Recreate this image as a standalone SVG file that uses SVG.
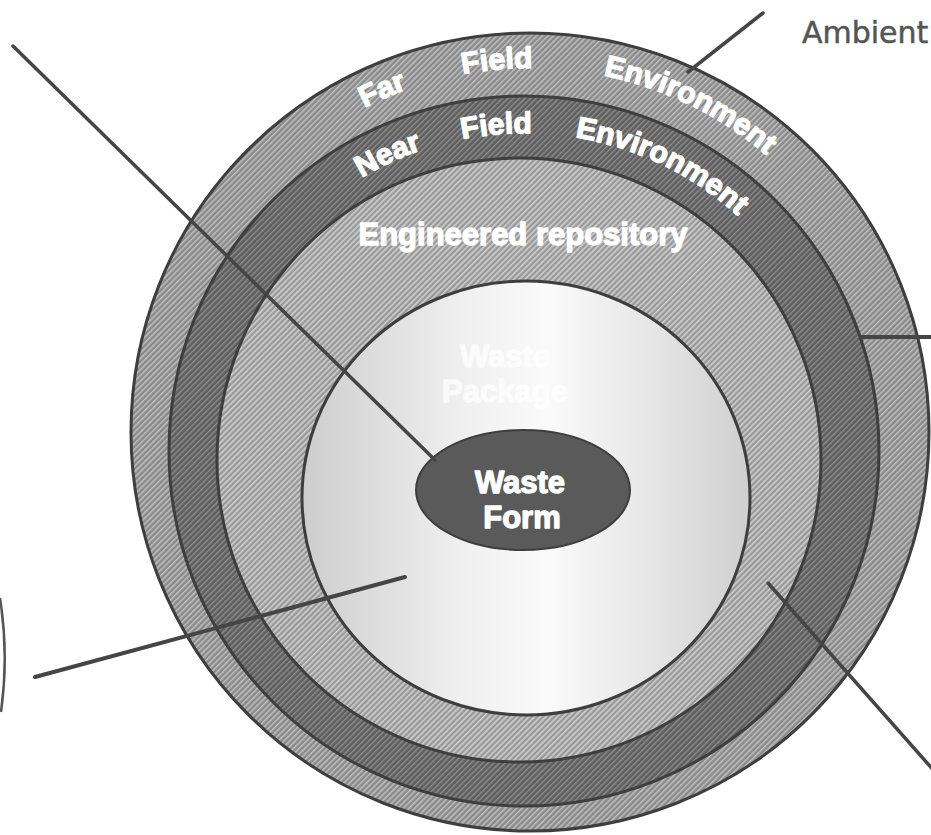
<svg xmlns="http://www.w3.org/2000/svg" width="931" height="835" viewBox="0 0 931 835">
  <style>
    .ring { stroke: #3e3e3e; stroke-width: 3; }
    .band-label { font-family: "Liberation Sans", Arial, sans-serif; font-weight: bold; font-size: 30px; fill: #ffffff; stroke: #ffffff; stroke-width: 1.3; stroke-linejoin: round; }
    .core-label { font-family: "Liberation Sans", Arial, sans-serif; font-weight: bold; font-size: 31px; fill: #ffffff; stroke: #ffffff; stroke-width: 1.3; stroke-linejoin: round; text-anchor: middle; }
    .faint-label { opacity: 0.75; }
    .outside-label { font-family: "DejaVu Sans", "Liberation Sans", sans-serif; font-size: 30px; fill: #555555; stroke: #555555; stroke-width: 0.5; }
    .leader { stroke: #454545; stroke-linecap: round; fill: none; }
  </style>
  <defs>
    <!-- halftone-like diagonal hatching for the shells -->
    <pattern id="hatchFar" width="4" height="4" patternUnits="userSpaceOnUse" patternTransform="rotate(45)">
      <rect width="4" height="4" fill="#8a8a8a"/>
      <rect width="1.5" height="4" fill="#c0c0c0"/>
    </pattern>
    <pattern id="hatchNear" width="4" height="4" patternUnits="userSpaceOnUse" patternTransform="rotate(45)">
      <rect width="4" height="4" fill="#5e5e5e"/>
      <rect width="1.4" height="4" fill="#8e8e8e"/>
    </pattern>
    <pattern id="hatchEng" width="4" height="4" patternUnits="userSpaceOnUse" patternTransform="rotate(45)">
      <rect width="4" height="4" fill="#989898"/>
      <rect width="1.6" height="4" fill="#d0d0d0"/>
    </pattern>
    <linearGradient id="packageFill" x1="0" y1="0" x2="1" y2="0">
      <stop offset="0" stop-color="#cdcdcd"/>
      <stop offset="0.35" stop-color="#efefef"/>
      <stop offset="0.55" stop-color="#fafafa"/>
      <stop offset="0.8" stop-color="#e4e4e4"/>
      <stop offset="1" stop-color="#cfcfcf"/>
    </linearGradient>
    <!-- baselines for the curved shell labels -->
    <path id="farArc" d="M 166,432 A 364 364 0 0 1 894,432"/>
    <path id="nearArc" d="M 206,451 A 318 318 0 0 1 842,451"/>
  </defs>

  <rect width="931" height="835" fill="#ffffff"/>

  <!-- partial circle at the left margin -->
  <path d="M 0,598 Q 9,655 1,712" fill="none" stroke="#555555" stroke-width="2.5"/>

  <g id="node-far-field">
    <circle class="ring" cx="530" cy="432" r="399" fill="url(#hatchFar)"/>
    <text class="band-label"><textPath href="#farArc" startOffset="423" text-anchor="middle">Far</textPath></text>
    <text class="band-label"><textPath href="#farArc" startOffset="539" text-anchor="middle">Field</textPath></text>
    <text class="band-label"><textPath href="#farArc" startOffset="737" text-anchor="middle">Environment</textPath></text>
  </g>

  <g id="node-near-field">
    <circle class="ring" cx="524" cy="451" r="355" fill="url(#hatchNear)"/>
    <text class="band-label"><textPath href="#nearArc" startOffset="362" text-anchor="middle">Near</textPath></text>
    <text class="band-label"><textPath href="#nearArc" startOffset="472" text-anchor="middle">Field</textPath></text>
    <text class="band-label"><textPath href="#nearArc" startOffset="642" text-anchor="middle">Environment</textPath></text>
  </g>

  <g id="node-engineered-repository">
    <circle class="ring" cx="519" cy="460" r="302" fill="url(#hatchEng)"/>
    <text class="core-label" x="523" y="245">Engineered repository</text>
  </g>

  <g id="node-waste-package">
    <ellipse class="ring" cx="526" cy="498" rx="224" ry="217" fill="url(#packageFill)"/>
    <text class="core-label faint-label" x="505" y="367">Waste</text>
    <text class="core-label faint-label" x="505" y="402">Package</text>
  </g>

  <g id="node-waste-form">
    <ellipse cx="523" cy="490" rx="107" ry="60" fill="#5a5a5a" stroke="#3e3e3e" stroke-width="2"/>
    <text class="core-label" x="520" y="493">Waste</text>
    <text class="core-label" x="522" y="528">Form</text>
  </g>

  <g id="node-ambient">
    <text class="outside-label" x="802" y="43">Ambient</text>
  </g>

  <g id="connectors">
    <line class="leader" x1="13" y1="46" x2="435" y2="460" stroke-width="3.5"/>
    <line class="leader" x1="35" y1="677" x2="405" y2="577" stroke-width="4"/>
    <line class="leader" x1="763" y1="13" x2="688" y2="72" stroke-width="3.5"/>
    <line class="leader" x1="934" y1="337" x2="862" y2="337" stroke-width="4"/>
    <line class="leader" x1="936" y1="773" x2="768" y2="583" stroke-width="3.5"/>
  </g>
</svg>
